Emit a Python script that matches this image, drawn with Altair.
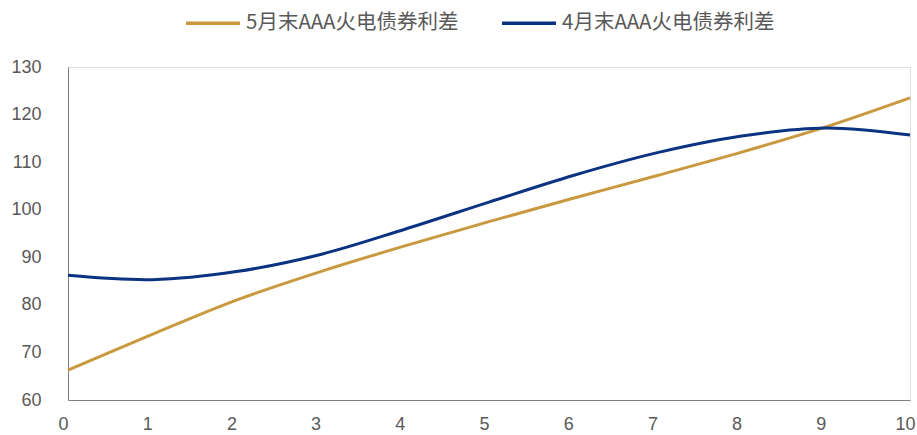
import altair as alt
import pandas as pd

years = [0, 1, 2, 3, 4, 5, 6, 7, 8, 9, 10]
may_spread = [66.3, 73.8, 81.0, 87.0, 92.4, 97.5, 102.4, 107.2, 112.1, 117.4, 123.5]
apr_spread = [86.2, 85.3, 87.0, 90.6, 95.9, 101.6, 107.2, 112.0, 115.5, 117.2, 115.7]
series_names = ["5月末AAA火电债券利差", "4月末AAA火电债券利差"]
colors = ["#C8993E", "#0B3382"]

rows = []
for x, v in zip(years, may_spread):
    rows.append({"x": x, "v": v, "s": series_names[0]})
for x, v in zip(years, apr_spread):
    rows.append({"x": x, "v": v, "s": series_names[1]})
df = pd.DataFrame(rows)

chart = alt.Chart(df).mark_line(strokeWidth=3, interpolate="catmull-rom").encode(
    x=alt.X("x:Q", scale=alt.Scale(domain=[0, 10], nice=False),
            axis=alt.Axis(values=years, title=None, grid=False, ticks=False,
                          labelPadding=15, labelFontSize=18, labelColor="#595959",
                          labelFont="Liberation Sans", domainColor="#808080",
                          labelFlush=False, labelOffset=-5, format="d")),
    y=alt.Y("v:Q", scale=alt.Scale(domain=[60, 130], nice=False),
            axis=alt.Axis(values=[60, 70, 80, 90, 100, 110, 120, 130], title=None,
                          grid=False, ticks=False, labelPadding=27, labelFontSize=18,
                          labelColor="#595959", labelFont="Liberation Sans",
                          domainColor="#808080")),
    color=alt.Color("s:N", scale=alt.Scale(domain=series_names, range=colors),
                    legend=alt.Legend(title=None, orient="none", direction="horizontal",
                                      legendX=116, legendY=-73, symbolType="stroke",
                                      symbolSize=2916, symbolStrokeWidth=3.5,
                                      labelFontSize=20.5, labelColor="#595959",
                                      labelFont="Noto Sans CJK SC", columnPadding=36,
                                      labelOffset=4, labelLimit=400, padding=0)),
).properties(
    width=842, height=333,
    autosize=alt.AutoSizeParams(type="none"),
    padding={"left": 68, "top": 67, "right": 7, "bottom": 35},
).configure_view(stroke=None).configure(background="white")

chart.save("out.html", embed_options={"renderer": "svg", "actions": False})
